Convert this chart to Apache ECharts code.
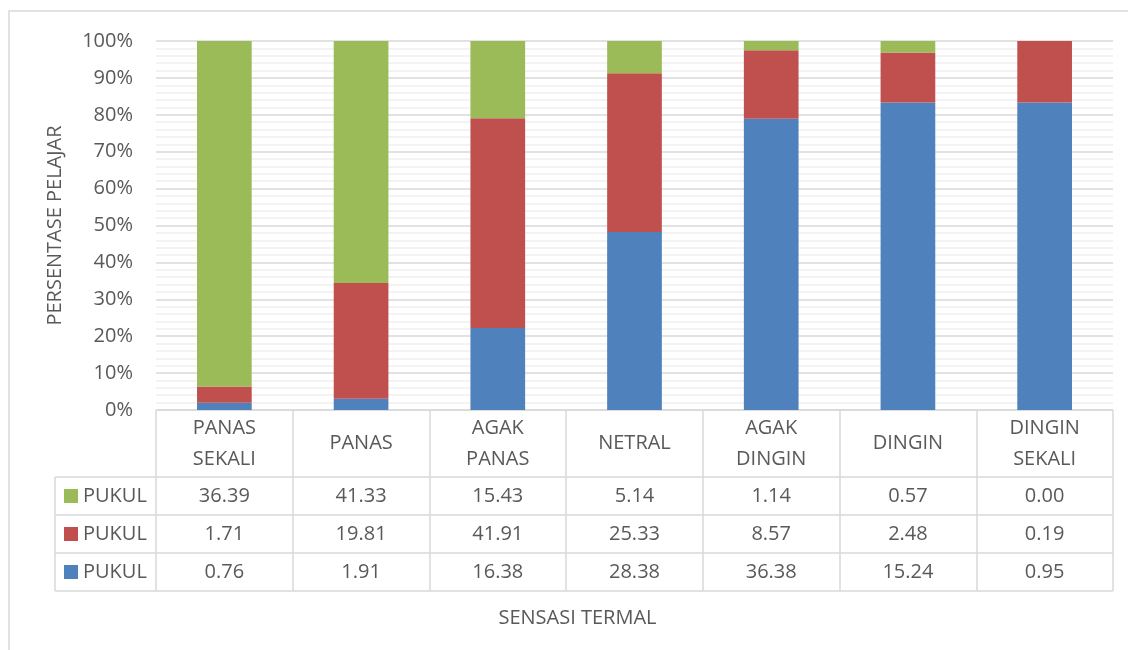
<!DOCTYPE html>
<html>
<head>
<meta charset="utf-8">
<script src="https://cdn.jsdelivr.net/npm/echarts@6/dist/echarts.min.js"></script>
<style>
  html, body { margin: 0; padding: 0; background: #fff; }
  #chart { width: 1128px; height: 650px; }
</style>
</head>
<body>
<div id="chart"></div>
<script>
// data
var categories = ['PANAS\nSEKALI', 'PANAS', 'AGAK\nPANAS', 'NETRAL', 'AGAK\nDINGIN', 'DINGIN', 'DINGIN\nSEKALI'];
var rowNames = ['PUKUL', 'PUKUL', 'PUKUL'];   // green, red, blue
var greenVals = [36.39, 41.33, 15.43, 5.14, 1.14, 0.57, 0.00];
var redVals = [1.71, 19.81, 41.91, 25.33, 8.57, 2.48, 0.19];
var blueVals = [0.76, 1.91, 16.38, 28.38, 36.38, 15.24, 0.95];

var colors = { green: '#9BBB59', red: '#C0504D', blue: '#4F81BD' };
var textColor = '#595959';
var fontFamily = '"Open Sans", sans-serif';
var fontSize = 20;

// layout
var gLeft = 156, gRight = 15, gTop = 41, gBottom = 240;
var axisY = 650 - gBottom;          // 410
var headerH = 67, rowH = 38;
var tableLeft = 55, tableRight = 1128 - gRight;

var totals = categories.map(function (c, i) { return greenVals[i] + redVals[i] + blueVals[i]; });
function pct(arr) {
    return arr.map(function (v, i) { return totals[i] ? v / totals[i] * 100 : 0; });
}

var rows = [
    { name: rowNames[0], color: colors.green, vals: greenVals },
    { name: rowNames[1], color: colors.red, vals: redVals },
    { name: rowNames[2], color: colors.blue, vals: blueVals }
];

var chart = echarts.init(document.getElementById('chart'));

// x axes: 0 = header row (categories), 1..3 = value rows of the table
var xAxes = [{
    type: 'category',
    data: categories,
    position: 'bottom',
    name: 'SENSASI TERMAL',
    nameLocation: 'middle',
    nameGap: 198,
    nameTextStyle: { color: textColor, fontFamily: fontFamily, fontSize: fontSize, padding: [0, 114, 0, 0] },
    axisLine: { show: false },
    axisTick: { show: true, length: headerH + rowH * 3, lineStyle: { color: '#d9d9d9', width: 1.5 } },
    axisLabel: {
        interval: 0, margin: headerH / 2, verticalAlign: 'middle', lineHeight: 31,
        color: textColor, fontFamily: fontFamily, fontSize: fontSize
    },
    splitLine: { show: false }
}];
rows.forEach(function (r, k) {
    xAxes.push({
        type: 'category',
        data: r.vals.map(function (v) { return v.toFixed(2); }),
        position: 'bottom',
        axisLine: { show: false },
        axisTick: { show: false },
        axisLabel: {
            interval: 0, margin: headerH + rowH * k + rowH / 2, verticalAlign: 'middle',
            color: textColor, fontFamily: fontFamily, fontSize: fontSize
        },
        splitLine: { show: false }
    });
});

// table lines and the legend column
var graphics = [{
    type: 'rect',
    shape: { x: 9, y: 11, width: 1140, height: 660 },
    style: { fill: null, stroke: '#d9d9d9', lineWidth: 1.5 },
    silent: true
}];
var hLines = [axisY];
for (var k = 0; k <= 3; k++) hLines.push(axisY + headerH + rowH * k);
hLines.forEach(function (y, k) {
    graphics.push({
        type: 'line',
        shape: { x1: k === 0 ? gLeft : tableLeft, y1: y, x2: tableRight, y2: y },
        style: { stroke: '#d9d9d9', lineWidth: 1.5 },
        silent: true
    });
});
graphics.push({
    type: 'line',
    shape: { x1: tableLeft, y1: axisY + headerH, x2: tableLeft, y2: axisY + headerH + rowH * 3 },
    style: { stroke: '#d9d9d9', lineWidth: 1.5 },
    silent: true
});
rows.forEach(function (r, k) {
    var cy = axisY + headerH + rowH * k + rowH / 2;
    graphics.push({
        type: 'rect',
        shape: { x: 64, y: cy - 7, width: 14, height: 14 },
        style: { fill: r.color },
        silent: true
    });
    graphics.push({
        type: 'text',
        x: 83, y: cy,
        style: {
            text: r.name, fill: textColor, font: fontSize + 'px ' + fontFamily,
            verticalAlign: 'middle', align: 'left'
        },
        silent: true
    });
});

var option = {
    animation: false,
    backgroundColor: '#fff',
    grid: { left: gLeft, right: gRight, top: gTop, bottom: gBottom, containLabel: false },
    xAxis: xAxes,
    yAxis: {
        type: 'value',
        min: 0, max: 100, interval: 10,
        name: 'PERSENTASE PELAJAR',
        nameLocation: 'middle',
        nameGap: 91,
        nameRotate: 90,
        nameTextStyle: { color: textColor, fontFamily: fontFamily, fontSize: fontSize },
        axisLine: { show: false },
        axisTick: { show: false },
        axisLabel: {
            formatter: '{value}%', margin: 23,
            color: textColor, fontFamily: fontFamily, fontSize: fontSize
        },
        splitLine: { lineStyle: { color: '#d9d9d9', width: 1.5 } },
        minorTick: { show: false, splitNumber: 5 },
        minorSplitLine: { show: true, lineStyle: { color: '#f0f0f0', width: 1.5 } }
    },
    series: [
        { name: rowNames[2], type: 'bar', stack: 'total', xAxisIndex: 0, data: pct(blueVals),
          barCategoryGap: '60%', itemStyle: { color: colors.blue } },
        { name: rowNames[1], type: 'bar', stack: 'total', xAxisIndex: 0, data: pct(redVals),
          barCategoryGap: '60%', itemStyle: { color: colors.red } },
        { name: rowNames[0], type: 'bar', stack: 'total', xAxisIndex: 0, data: pct(greenVals),
          barCategoryGap: '60%', itemStyle: { color: colors.green } }
    ],
    graphic: graphics
};
chart.setOption(option);
</script>
</body>
</html>
